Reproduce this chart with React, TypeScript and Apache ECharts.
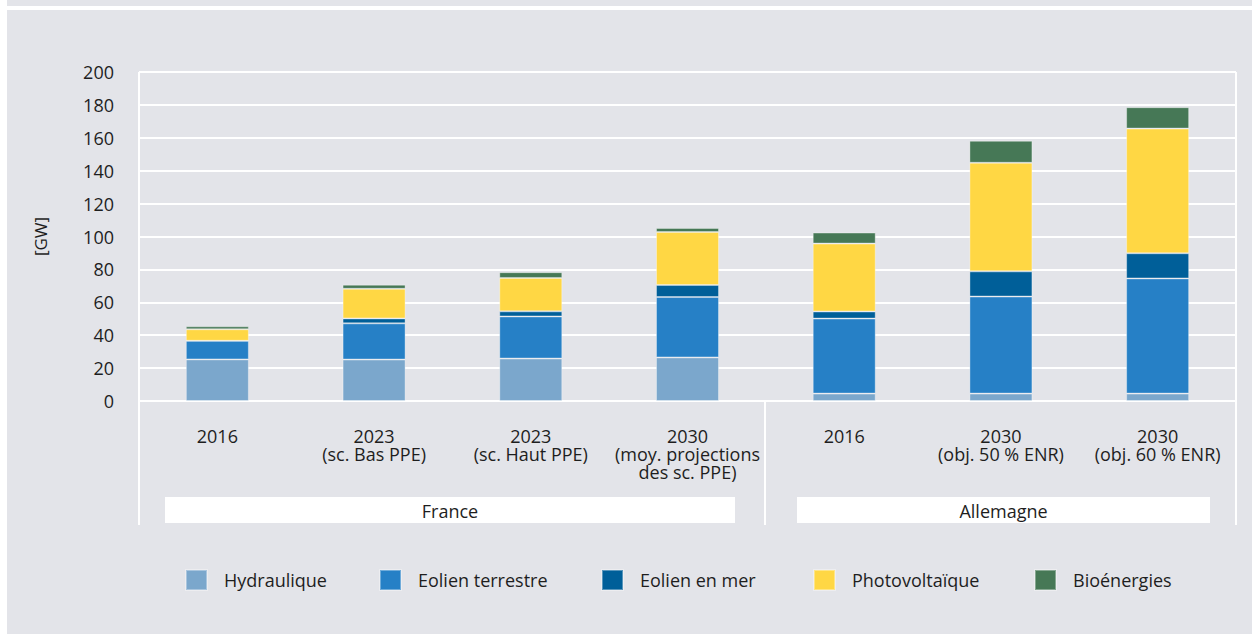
import React, { useEffect, useRef } from "react";
import * as echarts from "echarts";

const categories = [
  "2016",
  "2023\n(sc. Bas PPE)",
  "2023\n(sc. Haut PPE)",
  "2030\n(moy. projections\ndes sc. PPE)",
  "2016",
  "2030\n(obj. 50 % ENR)",
  "2030\n(obj. 60 % ENR)",
];
const seriesNames = ["Hydraulique", "Eolien terrestre", "Eolien en mer", "Photovoltaïque", "Bioénergies"];
const hydraulique = [25.3, 25.2, 25.8, 26.5, 4.5, 4.5, 4.5];
const eolienTerrestre = [11.3, 22, 25.6, 36.7, 45.6, 59, 70];
const eolienMer = [0, 3, 3.1, 7.3, 4.3, 15.3, 15.3];
const photovoltaique = [7, 18, 20.3, 32.2, 41.3, 66, 75.8];
const bioenergies = [1.8, 2.5, 3.5, 2.5, 6.7, 13.4, 13];
const groupNames = ["France", "Allemagne"];
const yTicks = { min: 0, max: 200, interval: 20 };

const colors = ["#7ba7cc", "#2680c6", "#005f99", "#ffd744", "#467856"];
const FONT = "'Open Sans', sans-serif";
const TXT = "#1e1e1e";
const BG = "#e3e4e9";
const OFF = 7;

export default function App() {
  const ref = useRef<HTMLDivElement>(null);
  useEffect(() => {
    if (!ref.current) return;
    const chart = echarts.init(ref.current, undefined, { renderer: "svg" });
    const values = [hydraulique, eolienTerrestre, eolienMer, photovoltaique, bioenergies];
    const legendX = [185, 379, 601, 813, 1034];
    const line = (x1: number, y1: number, x2: number, y2: number) => ({
      type: "line",
      shape: { x1: x1 - OFF, y1, x2: x2 - OFF, y2 },
      style: { stroke: "#ffffff", lineWidth: 2 },
      z: 1,
      silent: true,
    });
    chart.setOption({
      animation: false,
      backgroundColor: BG,
      textStyle: { fontFamily: FONT },
      grid: { left: 139 - OFF, right: 1252 - 1236, top: 72, bottom: 634 - 401, containLabel: false },
      xAxis: {
        type: "category",
        data: categories,
        axisLine: { show: false },
        axisTick: { show: false },
        axisLabel: {
          interval: 0,
          color: TXT,
          fontSize: 18,
          lineHeight: 18,
          margin: 26,
          fontFamily: FONT,
        },
      },
      yAxis: {
        type: "value",
        min: yTicks.min,
        max: yTicks.max,
        interval: yTicks.interval,
        name: "[GW]",
        nameLocation: "middle",
        nameGap: 90,
        nameTextStyle: { color: TXT, fontSize: 17, fontFamily: FONT },
        axisLine: { show: false },
        axisTick: { show: false },
        axisLabel: { color: TXT, fontSize: 18, margin: 25, fontFamily: FONT },
        splitLine: { show: true, lineStyle: { color: "#ffffff", width: 2 } },
      },
      legend: seriesNames.map((n, i) => ({
        data: [n],
        left: legendX[i] - OFF,
        top: 569,
        itemWidth: 21,
        itemHeight: 20,
        icon: "rect",
        padding: 0,
        textStyle: { color: TXT, fontSize: 18, fontFamily: FONT, padding: [0, 0, 0, 12] },
      })),
      series: seriesNames.map((n, i) => ({
        name: n,
        type: "bar",
        stack: "total",
        barWidth: 63,
        data: values[i],
        itemStyle: { color: colors[i], borderColor: "rgba(255,255,255,0.35)", borderWidth: 1 },
      })),
      graphic: [
        { type: "rect", shape: { x: 0, y: 6, width: 1252, height: 4 }, style: { fill: "#ffffff" }, silent: true },
        line(139, 72, 139, 525),
        line(1236, 72, 1236, 525),
        line(765, 401, 765, 525),
        { type: "rect", shape: { x: 165 - OFF, y: 497, width: 570, height: 26 }, style: { fill: "#ffffff" }, silent: true },
        { type: "rect", shape: { x: 797 - OFF, y: 497, width: 413, height: 26 }, style: { fill: "#ffffff" }, silent: true },
        {
          type: "text",
          x: 450 - OFF,
          y: 511,
          style: { text: groupNames[0], fill: TXT, fontSize: 18, fontFamily: FONT, align: "center", verticalAlign: "middle" },
          silent: true,
        },
        {
          type: "text",
          x: 1003.5 - OFF,
          y: 511,
          style: { text: groupNames[1], fill: TXT, fontSize: 18, fontFamily: FONT, align: "center", verticalAlign: "middle" },
          silent: true,
        },
      ],
    });
    return () => chart.dispose();
  }, []);
  return (
    <div style={{ position: "fixed", left: 0, top: 0, width: 1252, height: 634, background: "#ffffff" }}>
      <div ref={ref} style={{ position: "absolute", left: OFF, top: 0, width: 1252 - OFF, height: 634 }} />
    </div>
  );
}
